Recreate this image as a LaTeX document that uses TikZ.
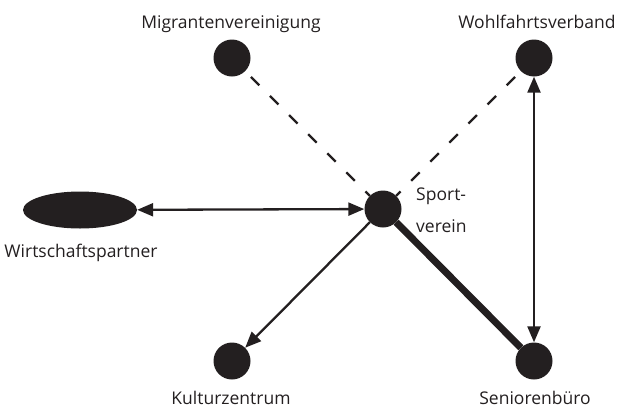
\documentclass[tikz,border=0pt]{standalone}
\usepackage{fontspec}
\setmainfont{Open Sans}
\usetikzlibrary{arrows.meta,shapes.geometric}
\definecolor{ink}{HTML}{231F20}

\begin{document}
\begin{tikzpicture}[x=1pt,y=-1pt,
  dot/.style={circle,fill=ink,minimum size=37pt,inner sep=0pt},
  lbl/.style={text=ink,font=\fontsize{17.5}{25}\selectfont,inner sep=0pt,anchor=base},
  arr/.style={ink,line width=2.3pt,>={Triangle[length=16pt,width=13pt]}},
  dashline/.style={ink,line width=2.3pt,dash pattern=on 12pt off 15pt,dash phase=-8pt},
  strong/.style={ink,line width=7pt}]
\useasboundingbox (0,0) rectangle (617,407);
\node [dot] (sport) at (383,209) {};
\node [dot] (migr) at (232,58) {};
\node [dot] (wohl) at (534,58) {};
\node [dot] (kult) at (232,361) {};
\node [dot] (senior) at (534,361) {};
\node [ellipse,fill=ink,minimum width=114pt,minimum height=37pt,inner sep=0pt] (wirt) at (80,210) {};
\node [lbl] (migrlbl) at (231,28) {Migrantenvereinigung};
\node [lbl] (wohllbl) at (537,28) {Wohlfahrtsverband};
\node [lbl] (wirtlbl) at (81,257) {Wirtschaftspartner};
\node [lbl] (kultlbl) at (231,404) {Kulturzentrum};
\node [lbl] (seniorlbl) at (535,404) {Seniorenbüro};
\node [lbl,anchor=base west,align=left] (sportlbl) at (416,232) {Sport-\\[7pt]verein};
\draw [dashline] (migr) -- (sport);
\draw [dashline] (wohl) -- (sport);
\draw [arr,<->] (wirt) -- (sport);
\draw [arr,->] (sport) -- (kult);
\draw [arr,<->] (wohl) -- (senior);
\draw [strong] (sport) -- (senior);
\end{tikzpicture}
\end{document}
